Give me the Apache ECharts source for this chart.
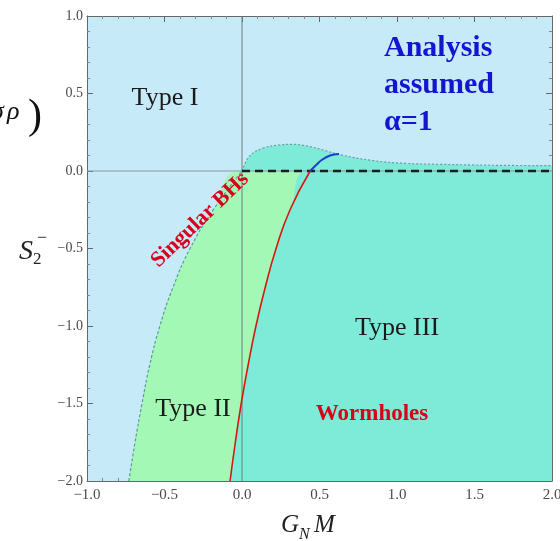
<!DOCTYPE html>
<html>
<head>
<meta charset="utf-8">
<script src="https://cdn.jsdelivr.net/npm/echarts@6/dist/echarts.min.js"></script>
<style>
html, body { margin: 0; padding: 0; background: #fff; }
#chart { width: 560px; height: 541px; }
</style>
</head>
<body>
<div id="chart"></div>
<script>
// boundary of Type II (dotted, left side)
var leftX = [-0.73, -0.69, -0.645, -0.595, -0.53, -0.445, -0.335, -0.185, 0];
var leftY = [-2.0, -1.75, -1.5, -1.25, -1.0, -0.75, -0.5, -0.25, 0];

// wormhole boundary (red)
var redX = [-0.077, -0.043, -0.005, 0.04, 0.09, 0.15, 0.22, 0.31, 0.44];
var redY = [-2.0, -1.75, -1.5, -1.25, -1.0, -0.75, -0.5, -0.25, 0];

// continuation above zero (blue)
var blueX = [0.44, 0.48, 0.514, 0.568, 0.626];
var blueY = [0, 0.04, 0.071, 0.10, 0.11];

// upper dotted bump of Type III
var bumpX = [0, 0.05, 0.137, 0.245, 0.33, 0.44, 0.546, 0.632, 0.846, 1.06, 1.28, 1.49, 1.71, 2.0];
var bumpY = [0, 0.097, 0.148, 0.168, 0.172, 0.157, 0.129, 0.105, 0.067, 0.049, 0.043, 0.039, 0.036, 0.035];

var serif = 'Liberation Serif';
var blue = '#c6eaf7', green = '#a3f8b6', teal = '#7debd7';

function zip(xs, ys) {
    let out = [];
    for (let i = 0; i < xs.length; ++i) out.push([xs[i], ys[i]]);
    return out;
}

function fmt(v) {
    let s = Math.abs(v).toFixed(1);
    return v < 0 ? '\u2212' + s : s;
}

function note(x, y, text, st) {
    return {
        value: [x, y],
        label: Object.assign({
            show: true, position: 'inside', formatter: text, opacity: 1,
            fontFamily: serif, fontSize: 26, color: '#1a1a1a'
        }, st)
    };
}

var frame = { show: true, onZero: false, lineStyle: { color: '#666', width: 1 } };
var ticks = { show: true, inside: true, length: 6, lineStyle: { color: '#666' } };
var minor = { show: true, splitNumber: 5, length: 3, lineStyle: { color: '#888' } };

function xAx(pos, labels) {
    return {
        type: 'value', position: pos, min: -1, max: 2, interval: 0.5,
        axisLine: frame, axisTick: ticks, minorTick: minor,
        splitLine: { show: false },
        axisLabel: {
            show: labels, margin: 7, fontFamily: serif, fontSize: 15, color: '#4a4a4a',
            formatter: fmt
        }
    };
}
function yAx(pos, labels) {
    return {
        type: 'value', position: pos, min: -2, max: 1, interval: 0.5,
        axisLine: frame, axisTick: ticks, minorTick: minor,
        splitLine: { show: false },
        axisLabel: {
            show: labels, margin: 4, fontFamily: serif, fontSize: 14, color: '#4a4a4a',
            formatter: fmt
        }
    };
}

var chart = echarts.init(document.getElementById('chart'));
chart.setOption({
    animation: false,
    backgroundColor: '#fff',
    grid: {
        left: 87, top: 16, right: 8, bottom: 60,
        show: true, backgroundColor: blue, borderWidth: 0,
        outerBoundsMode: 'none'
    },
    xAxis: [xAx('bottom', true), xAx('top', false)],
    yAxis: [yAx('left', true), yAx('right', false)],
    series: [
        // green region (Type II), filled down to -2
        {
            type: 'line', data: zip(leftX, leftY).concat([[2, 0]]),
            smooth: 0.5, symbol: 'none',
            lineStyle: { width: 0 },
            areaStyle: { origin: 'start', color: green, opacity: 1 }
        },
        // teal below zero, right of red curve
        {
            type: 'line', data: zip(redX, redY).concat([[2, 0]]),
            smooth: 0.5, symbol: 'none',
            lineStyle: { width: 0 },
            areaStyle: { origin: 'start', color: teal, opacity: 1 }
        },
        // teal bump above zero
        {
            type: 'line', data: zip(bumpX, bumpY),
            smooth: 0.4, symbol: 'none',
            lineStyle: { color: '#6e9aa6', width: 1.2, type: [2, 2] },
            areaStyle: { origin: 'auto', color: teal, opacity: 1 }
        },
        // axes through origin
        {
            type: 'line', data: [[-1, 0], [2, 0]], symbol: 'none',
            lineStyle: { color: '#8a9aa0', width: 1 }
        },
        {
            type: 'line', data: [[0, -2], [0, 1]], symbol: 'none',
            lineStyle: { color: '#6f7f80', width: 1 }
        },
        // left dotted boundary
        {
            type: 'line', data: zip(leftX, leftY),
            smooth: 0.5, symbol: 'none',
            lineStyle: { color: '#5f9a9a', width: 1.2, type: [3, 2] }
        },
        // dashed black line on zero
        {
            type: 'line', data: [[0, 0], [2, 0]], symbol: 'none',
            lineStyle: { color: '#1e1e1e', width: 2.5, type: [8, 5] }
        },
        // red curve
        {
            type: 'line', data: zip(redX, redY),
            smooth: 0.5, symbol: 'none',
            lineStyle: { color: '#d41a10', width: 1.6 }
        },
        // blue curve
        {
            type: 'line', data: zip(blueX, blueY),
            smooth: 0.4, symbol: 'none',
            lineStyle: { color: '#1c3fd0', width: 2 }
        },
        // annotations
        {
            type: 'scatter', symbolSize: 0, silent: true, z: 30, zlevel: 1,
            itemStyle: { opacity: 1 },
            data: [
                note(-0.497, 0.471, 'Type I'),
                note(-0.316, -1.535, 'Type II'),
                note(1.0, -1.013, 'Type III'),
                note(0.839, -1.568, 'Wormholes', { fontWeight: 'bold', fontSize: 23, color: '#d8001a' }),
                note(-0.271, -0.316, 'Singular BHs', { fontWeight: 'bold', fontSize: 22, color: '#d8001a', rotate: 44 }),
                note(0.916, 0.794, 'Analysis', { position: 'right', distance: 0, fontWeight: 'bold', fontSize: 30, color: '#1515d0' }),
                note(0.916, 0.555, 'assumed', { position: 'right', distance: 0, fontWeight: 'bold', fontSize: 30, color: '#1515d0' }),
                note(0.916, 0.316, 'α=1', { position: 'right', distance: 0, fontWeight: 'bold', fontSize: 30, color: '#1515d0' })
            ]
        }
    ],
    graphic: [
        { type: 'text', left: -9, top: 99, style: { text: 'σ', font: 'italic 26px "Liberation Serif"', fill: '#111' } },
        { type: 'text', left: 7, top: 99, style: { text: 'ρ', font: 'italic 26px "Liberation Serif"', fill: '#111' } },
        { type: 'text', left: 28, top: 96, style: { text: ')', font: '42px "Liberation Serif"', fill: '#111' } },
        { type: 'text', left: 19, top: 238, style: { text: 'S', font: 'italic 28px "Liberation Serif"', fill: '#222' } },
        { type: 'text', left: 33, top: 251, style: { text: '2', font: '17px "Liberation Serif"', fill: '#222' } },
        { type: 'text', left: 37, top: 229, style: { text: '\u2212', font: '18px "Liberation Serif"', fill: '#222' } },
        { type: 'text', left: 281, top: 513, style: { text: 'G', font: 'italic 25px "Liberation Serif"', fill: '#222' } },
        { type: 'text', left: 299, top: 527, style: { text: 'N', font: 'italic 16px "Liberation Serif"', fill: '#222' } },
        { type: 'text', left: 314, top: 513, style: { text: 'M', font: 'italic 25px "Liberation Serif"', fill: '#222' } }
    ]
});
</script>
</body>
</html>
